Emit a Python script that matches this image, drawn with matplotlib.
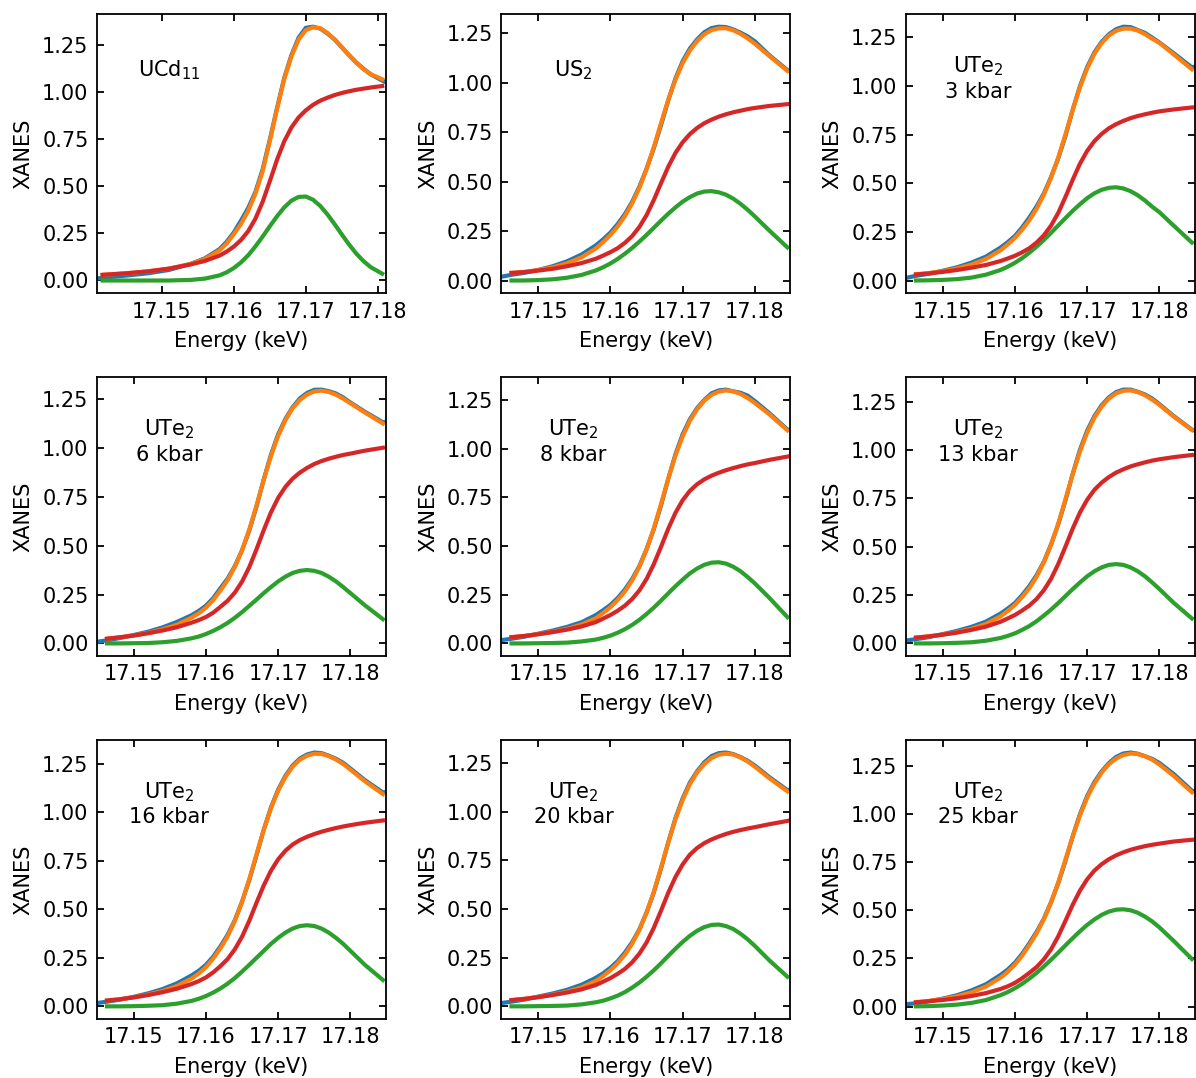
import matplotlib
matplotlib.use('Agg')
import matplotlib.pyplot as plt
from matplotlib.ticker import MultipleLocator

# energy grids (keV)
energy_fit_ucd11 = [17.1418, 17.145, 17.148, 17.151, 17.154, 17.156, 17.158, 17.159, 17.160,
                    17.161, 17.162, 17.163, 17.164, 17.165, 17.166, 17.167, 17.168, 17.169,
                    17.170, 17.171, 17.172, 17.173, 17.174, 17.175, 17.176, 17.177, 17.178,
                    17.179, 17.1806]
energy_data_ucd11 = [17.1410, 17.1418, 17.145, 17.148, 17.151, 17.154, 17.156, 17.158, 17.159,
                     17.160, 17.161, 17.162, 17.163, 17.164, 17.165, 17.166, 17.167, 17.168,
                     17.169, 17.170, 17.171, 17.172, 17.173, 17.174, 17.175, 17.176, 17.177,
                     17.178, 17.179, 17.1806, 17.1811]
energy_fit = [17.1463, 17.148, 17.150, 17.152, 17.154, 17.156, 17.158, 17.159, 17.160, 17.161,
              17.162, 17.163, 17.164, 17.165, 17.166, 17.167, 17.168, 17.169, 17.170, 17.171,
              17.172, 17.173, 17.174, 17.175, 17.176, 17.177, 17.178, 17.179, 17.180, 17.182,
              17.1845]
energy_data = [17.1449] + energy_fit + [17.1849]

# UCd11
ucd11_data = [0.010, 0.015, 0.026, 0.038, 0.056, 0.088, 0.118, 0.166, 0.205, 0.255, 0.318, 0.385,
              0.470, 0.590, 0.748, 0.915, 1.075, 1.197, 1.290, 1.342, 1.348, 1.338, 1.312, 1.280,
              1.238, 1.197, 1.158, 1.125, 1.095, 1.062, 1.053]
ucd11_fit = [0.030, 0.038, 0.048, 0.063, 0.088, 0.114, 0.159, 0.196, 0.246, 0.300, 0.370, 0.460,
             0.580, 0.740, 0.910, 1.070, 1.190, 1.280, 1.330, 1.345, 1.340, 1.315, 1.280, 1.240,
             1.196, 1.156, 1.122, 1.096, 1.069]
ucd11_step = [0.030, 0.038, 0.048, 0.063, 0.085, 0.104, 0.132, 0.153, 0.180, 0.215, 0.262, 0.328,
              0.417, 0.527, 0.641, 0.739, 0.813, 0.866, 0.904, 0.933, 0.955, 0.971, 0.985, 0.996,
              1.005, 1.013, 1.019, 1.025, 1.033]
ucd11_peak = [0.000, 0.000, 0.000, 0.000, 0.003, 0.010, 0.027, 0.043, 0.066, 0.096, 0.134, 0.181,
              0.233, 0.288, 0.341, 0.388, 0.424, 0.444, 0.446, 0.429, 0.396, 0.351, 0.299, 0.244,
              0.191, 0.143, 0.103, 0.071, 0.036]

# US2
us2_data = [0.020, 0.030, 0.039, 0.054, 0.073, 0.098, 0.132, 0.179, 0.209, 0.243, 0.286, 0.336,
            0.398, 0.474, 0.565, 0.668, 0.785, 0.909, 1.021, 1.108, 1.172, 1.218, 1.254, 1.275,
            1.282, 1.280, 1.268, 1.252, 1.233, 1.208, 1.138, 1.063, 1.058]
us2_fit = [0.040, 0.044, 0.054, 0.067, 0.088, 0.118, 0.163, 0.195, 0.231, 0.274, 0.326, 0.390,
           0.468, 0.563, 0.674, 0.795, 0.913, 1.015, 1.098, 1.162, 1.210, 1.244, 1.265, 1.274,
           1.274, 1.264, 1.246, 1.223, 1.196, 1.134, 1.059]
us2_step = [0.039, 0.043, 0.051, 0.060, 0.073, 0.089, 0.111, 0.127, 0.144, 0.164, 0.191, 0.225,
            0.271, 0.331, 0.407, 0.492, 0.575, 0.645, 0.699, 0.740, 0.771, 0.795, 0.813, 0.828,
            0.840, 0.850, 0.858, 0.866, 0.872, 0.882, 0.891]
us2_peak = [0.001, 0.001, 0.003, 0.007, 0.015, 0.029, 0.052, 0.068, 0.087, 0.110, 0.136, 0.165,
            0.197, 0.231, 0.267, 0.303, 0.338, 0.370, 0.399, 0.422, 0.440, 0.450, 0.452, 0.446,
            0.434, 0.414, 0.388, 0.358, 0.324, 0.253, 0.168]

# UTe2, 3 kbar
ute2_3_data = [0.014, 0.025, 0.035, 0.051, 0.069, 0.093, 0.124, 0.170, 0.198, 0.230, 0.274, 0.325,
               0.382, 0.448, 0.533, 0.629, 0.744, 0.878, 1.000, 1.098, 1.173, 1.227, 1.266, 1.292,
               1.305, 1.303, 1.288, 1.273, 1.249, 1.224, 1.168, 1.096, 1.100]
ute2_3_fit = [0.033, 0.039, 0.049, 0.063, 0.083, 0.112, 0.156, 0.186, 0.220, 0.262, 0.311, 0.370,
              0.442, 0.529, 0.633, 0.753, 0.878, 0.994, 1.091, 1.166, 1.221, 1.260, 1.284, 1.295,
              1.295, 1.285, 1.267, 1.243, 1.222, 1.162, 1.086]
ute2_3_step = [0.032, 0.037, 0.045, 0.055, 0.067, 0.081, 0.101, 0.114, 0.128, 0.146, 0.167, 0.196,
               0.233, 0.283, 0.349, 0.431, 0.519, 0.601, 0.667, 0.717, 0.754, 0.783, 0.804, 0.821,
               0.835, 0.846, 0.855, 0.863, 0.870, 0.880, 0.890]
ute2_3_peak = [0.001, 0.002, 0.004, 0.008, 0.016, 0.031, 0.055, 0.072, 0.092, 0.116, 0.144, 0.175,
               0.209, 0.246, 0.284, 0.322, 0.359, 0.393, 0.424, 0.449, 0.467, 0.477, 0.480, 0.474,
               0.460, 0.439, 0.412, 0.380, 0.352, 0.282, 0.196]

# UTe2, 6 kbar
ute2_6_data = [0.008, 0.016, 0.027, 0.043, 0.060, 0.082, 0.110, 0.144, 0.166, 0.193, 0.231, 0.282,
               0.331, 0.395, 0.476, 0.577, 0.699, 0.838, 0.965, 1.069, 1.147, 1.207, 1.252, 1.280,
               1.296, 1.297, 1.289, 1.277, 1.257, 1.231, 1.184, 1.130, 1.131]
ute2_6_fit = [0.024, 0.031, 0.041, 0.054, 0.072, 0.096, 0.132, 0.154, 0.183, 0.221, 0.270, 0.323,
              0.391, 0.476, 0.582, 0.705, 0.836, 0.958, 1.061, 1.141, 1.202, 1.244, 1.272, 1.288,
              1.292, 1.285, 1.271, 1.251, 1.227, 1.180, 1.124]
ute2_6_step = [0.024, 0.031, 0.040, 0.052, 0.066, 0.083, 0.106, 0.119, 0.135, 0.157, 0.187, 0.218,
               0.260, 0.316, 0.390, 0.481, 0.579, 0.670, 0.744, 0.800, 0.842, 0.873, 0.897, 0.917,
               0.932, 0.944, 0.954, 0.963, 0.970, 0.985, 1.000]
ute2_6_peak = [0.000, 0.000, 0.001, 0.002, 0.006, 0.013, 0.026, 0.035, 0.048, 0.064, 0.083, 0.105,
               0.131, 0.160, 0.192, 0.224, 0.257, 0.288, 0.317, 0.341, 0.360, 0.371, 0.375, 0.371,
               0.360, 0.341, 0.317, 0.288, 0.257, 0.195, 0.124]

# UTe2, 8 kbar
ute2_8_data = [0.017, 0.024, 0.034, 0.050, 0.066, 0.085, 0.109, 0.146, 0.171, 0.198, 0.233, 0.277,
               0.331, 0.397, 0.484, 0.587, 0.708, 0.845, 0.972, 1.075, 1.152, 1.209, 1.251, 1.285,
               1.300, 1.304, 1.295, 1.288, 1.273, 1.245, 1.183, 1.099, 1.097]
ute2_8_fit = [0.032, 0.038, 0.048, 0.060, 0.075, 0.097, 0.130, 0.157, 0.186, 0.223, 0.267, 0.323,
              0.393, 0.482, 0.591, 0.716, 0.846, 0.965, 1.064, 1.144, 1.203, 1.247, 1.277, 1.294,
              1.300, 1.295, 1.282, 1.261, 1.235, 1.177, 1.095]
ute2_8_step = [0.032, 0.038, 0.047, 0.058, 0.071, 0.087, 0.110, 0.128, 0.146, 0.168, 0.194, 0.228,
               0.272, 0.331, 0.407, 0.496, 0.589, 0.671, 0.736, 0.784, 0.818, 0.843, 0.862, 0.877,
               0.890, 0.901, 0.911, 0.920, 0.927, 0.943, 0.960]
ute2_8_peak = [0.000, 0.000, 0.001, 0.002, 0.004, 0.010, 0.020, 0.029, 0.040, 0.055, 0.073, 0.095,
               0.121, 0.151, 0.184, 0.220, 0.257, 0.294, 0.328, 0.360, 0.385, 0.404, 0.415, 0.417,
               0.410, 0.394, 0.371, 0.341, 0.308, 0.234, 0.135]

# UTe2, 13 kbar
ute2_13_data = [0.015, 0.022, 0.032, 0.048, 0.065, 0.086, 0.113, 0.154, 0.180, 0.209, 0.250, 0.297,
                0.353, 0.422, 0.512, 0.616, 0.740, 0.877, 1.001, 1.100, 1.175, 1.231, 1.272, 1.299,
                1.312, 1.312, 1.301, 1.287, 1.266, 1.237, 1.175, 1.105, 1.100]
ute2_13_fit = [0.030, 0.036, 0.046, 0.059, 0.076, 0.101, 0.140, 0.168, 0.199, 0.240, 0.286, 0.345,
               0.419, 0.510, 0.620, 0.746, 0.875, 0.992, 1.090, 1.167, 1.224, 1.266, 1.293, 1.306,
               1.308, 1.299, 1.283, 1.260, 1.233, 1.172, 1.103]
ute2_13_step = [0.030, 0.036, 0.045, 0.056, 0.070, 0.087, 0.112, 0.129, 0.147, 0.170, 0.196, 0.230,
                0.275, 0.334, 0.411, 0.501, 0.594, 0.677, 0.743, 0.794, 0.831, 0.860, 0.883, 0.900,
                0.915, 0.926, 0.936, 0.945, 0.952, 0.963, 0.974]
ute2_13_peak = [0.000, 0.000, 0.001, 0.003, 0.006, 0.014, 0.028, 0.039, 0.052, 0.070, 0.090, 0.115,
                0.144, 0.175, 0.209, 0.245, 0.281, 0.315, 0.347, 0.373, 0.393, 0.406, 0.410, 0.406,
                0.393, 0.373, 0.347, 0.315, 0.281, 0.209, 0.129]

# UTe2, 16 kbar
ute2_16_data = [0.017, 0.024, 0.034, 0.049, 0.067, 0.089, 0.119, 0.159, 0.183, 0.214, 0.256, 0.309,
                0.369, 0.444, 0.540, 0.651, 0.778, 0.910, 1.025, 1.117, 1.188, 1.241, 1.277, 1.298,
                1.308, 1.305, 1.292, 1.276, 1.255, 1.226, 1.166, 1.102, 1.105]
ute2_16_fit = [0.030, 0.036, 0.047, 0.061, 0.079, 0.105, 0.143, 0.169, 0.202, 0.246, 0.299, 0.361,
               0.440, 0.538, 0.655, 0.784, 0.909, 1.021, 1.111, 1.182, 1.235, 1.271, 1.292, 1.302,
               1.301, 1.290, 1.272, 1.249, 1.220, 1.160, 1.094]
ute2_16_step = [0.030, 0.036, 0.046, 0.058, 0.073, 0.091, 0.115, 0.130, 0.149, 0.175, 0.207, 0.244,
                0.294, 0.359, 0.441, 0.534, 0.623, 0.699, 0.758, 0.802, 0.834, 0.857, 0.874, 0.888,
                0.900, 0.910, 0.919, 0.927, 0.934, 0.946, 0.958]
ute2_16_peak = [0.000, 0.000, 0.001, 0.003, 0.006, 0.014, 0.028, 0.039, 0.053, 0.071, 0.092, 0.117,
                0.146, 0.179, 0.214, 0.250, 0.286, 0.322, 0.353, 0.380, 0.401, 0.414, 0.418, 0.414,
                0.401, 0.380, 0.353, 0.322, 0.286, 0.214, 0.136]

# UTe2, 20 kbar
ute2_20_data = [0.017, 0.024, 0.034, 0.050, 0.066, 0.085, 0.111, 0.147, 0.170, 0.198, 0.232, 0.276,
                0.329, 0.395, 0.482, 0.584, 0.707, 0.841, 0.966, 1.068, 1.149, 1.207, 1.253, 1.285,
                1.300, 1.303, 1.295, 1.280, 1.261, 1.236, 1.177, 1.110, 1.113]
ute2_20_fit = [0.032, 0.038, 0.048, 0.060, 0.075, 0.097, 0.131, 0.156, 0.186, 0.222, 0.265, 0.321,
               0.392, 0.480, 0.588, 0.712, 0.842, 0.960, 1.060, 1.141, 1.201, 1.245, 1.275, 1.292,
               1.297, 1.293, 1.278, 1.257, 1.230, 1.171, 1.104]
ute2_20_step = [0.032, 0.038, 0.047, 0.058, 0.071, 0.087, 0.110, 0.127, 0.145, 0.167, 0.192, 0.226,
                0.270, 0.328, 0.403, 0.491, 0.583, 0.664, 0.729, 0.779, 0.813, 0.838, 0.857, 0.872,
                0.885, 0.896, 0.905, 0.913, 0.920, 0.935, 0.952]
ute2_20_peak = [0.000, 0.000, 0.001, 0.002, 0.004, 0.010, 0.021, 0.029, 0.041, 0.055, 0.073, 0.096,
                0.122, 0.152, 0.185, 0.221, 0.259, 0.296, 0.331, 0.362, 0.388, 0.407, 0.418, 0.420,
                0.412, 0.397, 0.373, 0.344, 0.310, 0.236, 0.152]

# UTe2, 25 kbar
ute2_25_data = [0.012, 0.017, 0.027, 0.041, 0.059, 0.084, 0.116, 0.164, 0.192, 0.228, 0.274, 0.329,
                0.388, 0.456, 0.542, 0.641, 0.757, 0.884, 0.999, 1.093, 1.166, 1.221, 1.264, 1.296,
                1.314, 1.319, 1.313, 1.300, 1.286, 1.265, 1.207, 1.121, 1.117]
ute2_25_fit = [0.023, 0.029, 0.039, 0.053, 0.074, 0.104, 0.150, 0.180, 0.218, 0.265, 0.320, 0.380,
               0.453, 0.540, 0.645, 0.764, 0.884, 0.993, 1.085, 1.158, 1.215, 1.258, 1.288, 1.306,
               1.314, 1.311, 1.300, 1.282, 1.257, 1.197, 1.113]
ute2_25_step = [0.022, 0.027, 0.034, 0.043, 0.055, 0.070, 0.091, 0.105, 0.123, 0.147, 0.175, 0.205,
                0.245, 0.297, 0.365, 0.446, 0.529, 0.602, 0.661, 0.706, 0.739, 0.765, 0.785, 0.801,
                0.814, 0.824, 0.833, 0.840, 0.846, 0.857, 0.866]
ute2_25_peak = [0.001, 0.002, 0.005, 0.010, 0.019, 0.034, 0.059, 0.075, 0.095, 0.118, 0.145, 0.175,
                0.208, 0.243, 0.280, 0.318, 0.355, 0.391, 0.424, 0.452, 0.476, 0.493, 0.503, 0.505,
                0.500, 0.487, 0.467, 0.442, 0.411, 0.340, 0.247]

labels = ['UCd$_{11}$', 'US$_2$', 'UTe$_2$\n3 kbar', 'UTe$_2$\n6 kbar', 'UTe$_2$\n8 kbar',
          'UTe$_2$\n13 kbar', 'UTe$_2$\n16 kbar', 'UTe$_2$\n20 kbar', 'UTe$_2$\n25 kbar']

panels = [
    (energy_data_ucd11, ucd11_data, energy_fit_ucd11, ucd11_fit, ucd11_step, ucd11_peak),
    (energy_data, us2_data, energy_fit, us2_fit, us2_step, us2_peak),
    (energy_data, ute2_3_data, energy_fit, ute2_3_fit, ute2_3_step, ute2_3_peak),
    (energy_data, ute2_6_data, energy_fit, ute2_6_fit, ute2_6_step, ute2_6_peak),
    (energy_data, ute2_8_data, energy_fit, ute2_8_fit, ute2_8_step, ute2_8_peak),
    (energy_data, ute2_13_data, energy_fit, ute2_13_fit, ute2_13_step, ute2_13_peak),
    (energy_data, ute2_16_data, energy_fit, ute2_16_fit, ute2_16_step, ute2_16_peak),
    (energy_data, ute2_20_data, energy_fit, ute2_20_fit, ute2_20_step, ute2_20_peak),
    (energy_data, ute2_25_data, energy_fit, ute2_25_fit, ute2_25_step, ute2_25_peak),
]

plt.rcParams['font.size'] = 15

fig, axes = plt.subplots(3, 3, figsize=(11.96, 10.78), dpi=100)
fig.subplots_adjust(left=0.081, right=0.999, bottom=0.0547, top=0.987, wspace=0.40, hspace=0.30)

lw = 3.0
for ax, (e_data, data, e_fit, fit, step, peak), label in zip(axes.flat, panels, labels):
    ax.plot(e_data, data, color='tab:blue', lw=lw)
    ax.plot(e_fit, fit, color='tab:orange', lw=lw)
    ax.plot(e_fit, peak, color='tab:green', lw=lw)
    ax.plot(e_fit, step, color='tab:red', lw=lw)
    ax.set_xlim(e_data[0], e_data[-1])

    ax.xaxis.set_major_locator(MultipleLocator(0.01))
    ax.yaxis.set_major_locator(MultipleLocator(0.25))
    ax.ticklabel_format(axis='x', useOffset=False)
    ax.tick_params(direction='in', top=True, right=True, length=5, width=1.3, pad=6)
    for sp in ax.spines.values():
        sp.set_linewidth(1.3)

    ax.set_xlabel('Energy (keV)', labelpad=7)
    ax.set_ylabel('XANES', labelpad=6)

    ypos = 0.80 if '\n' not in label else 0.77
    ax.text(0.25, ypos, label, transform=ax.transAxes, ha='center', va='center',
            multialignment='center')

fig.savefig('out.png', dpi=100)
